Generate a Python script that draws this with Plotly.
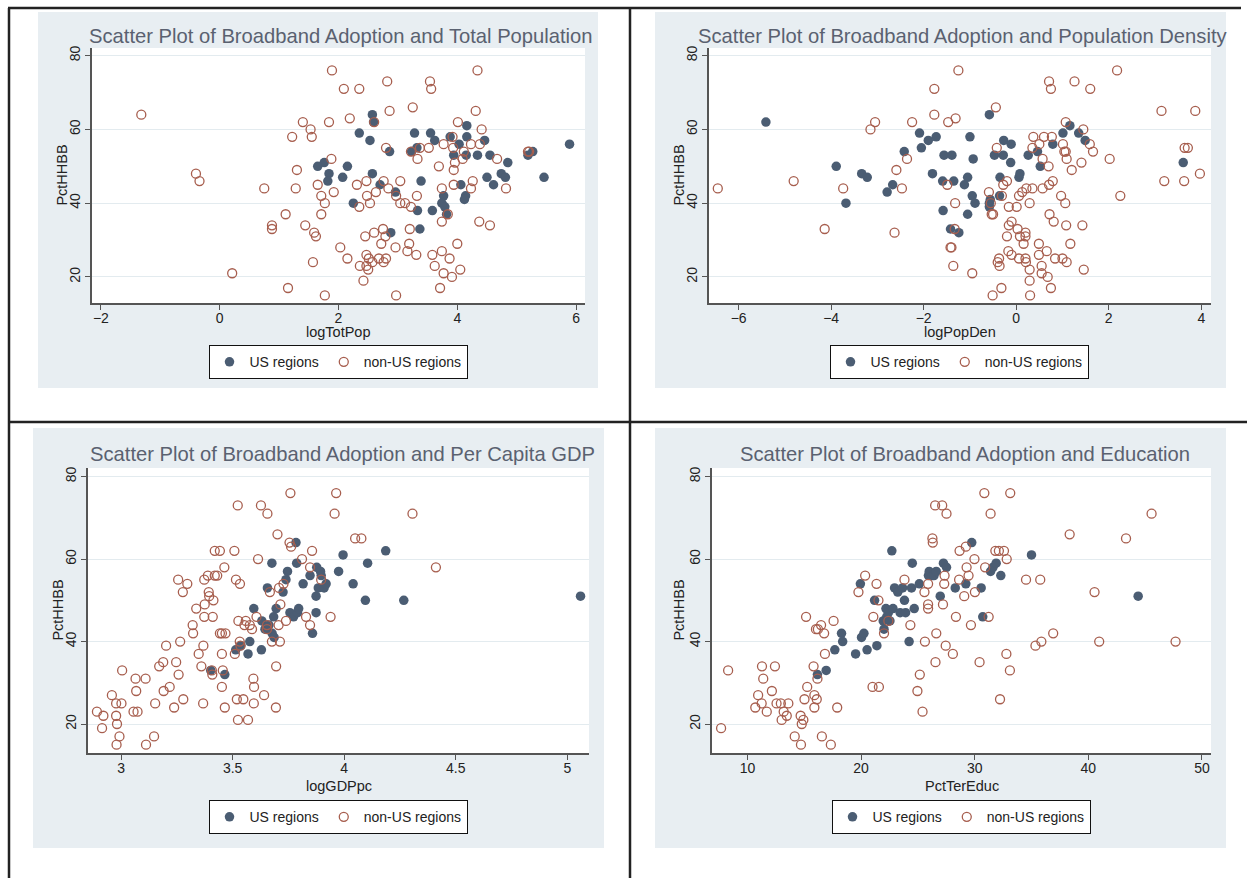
import plotly.graph_objects as go

# ---------------- DATA ----------------
p1_non_x = [-1.32, -0.40, -0.34, 0.21, 0.75, 0.88, 0.88, 1.11, 1.15, 1.22,
            1.28, 1.30, 1.40, 1.44, 1.53, 1.55, 1.57, 1.59, 1.62, 1.65,
            1.71, 1.71, 1.77, 1.77, 1.84, 1.88, 1.89, 1.92, 2.03, 2.09,
            2.15, 2.19, 2.31, 2.35, 2.35, 2.36, 2.42, 2.45, 2.47, 2.47,
            2.47, 2.48, 2.50, 2.51, 2.53, 2.57, 2.60, 2.60, 2.63, 2.68,
            2.72, 2.75, 2.76, 2.76, 2.79, 2.80, 2.80, 2.82, 2.84, 2.86,
            2.96, 2.97, 2.97, 3.04, 3.04, 3.12, 3.16, 3.19, 3.20, 3.22,
            3.22, 3.25, 3.31, 3.32, 3.33, 3.37, 3.52, 3.54, 3.56, 3.58,
            3.62, 3.69, 3.71, 3.74, 3.74, 3.74, 3.77, 3.77, 3.84, 3.87,
            3.91, 3.92, 3.93, 3.94, 3.94, 3.96, 4.00, 4.01, 4.05, 4.09,
            4.11, 4.23, 4.23, 4.26, 4.31, 4.34, 4.37, 4.38, 4.41, 4.55,
            4.67, 4.82, 5.19, 5.21]
p1_non_y = [64, 48, 46, 21, 44, 34, 33, 37, 17, 58,
            44, 49, 62, 34, 60, 58, 24, 32, 31, 45,
            42, 37, 40, 15, 62, 52, 76, 43, 28, 71,
            25, 63, 45, 71, 39, 23, 19, 31, 46, 23,
            26, 42, 22, 25, 40, 24, 32, 62, 43, 25,
            29, 33, 46, 24, 31, 25, 55, 73, 44, 65,
            28, 42, 15, 46, 40, 40, 27, 29, 33, 39,
            54, 66, 26, 42, 52, 55, 55, 73, 71, 26,
            23, 50, 17, 35, 27, 44, 56, 21, 37, 25,
            20, 58, 55, 49, 45, 51, 29, 62, 22, 52,
            54, 56, 44, 46, 65, 76, 35, 56, 60, 34,
            52, 44, 54, 54]
p1_us_x = [2.57, 2.59, 2.35, 2.53, 2.86, 3.28, 3.23, 3.32, 3.55, 3.62,
           3.88, 4.03, 3.94, 4.15, 4.16, 4.16, 4.34, 4.46, 4.55, 4.85,
           4.74, 4.81, 4.50, 4.61, 5.19, 5.27, 5.46, 5.89, 4.06, 4.14,
           4.12, 3.77, 3.74, 3.79, 3.82, 3.58, 3.33, 3.37, 3.39, 2.96,
           2.70, 2.88, 2.25, 2.07, 2.15, 2.57, 1.84, 1.82, 1.76, 1.65]
p1_us_y = [64, 62, 59, 57, 54, 59, 54, 55, 59, 57,
           58, 56, 53, 53, 61, 58, 53, 57, 53, 51,
           48, 47, 47, 45, 53, 54, 47, 56, 45, 42,
           41, 42, 40, 39, 37, 38, 38, 33, 46, 43,
           45, 32, 40, 47, 50, 48, 48, 46, 51, 50]

p2_non_x = [-6.45, -4.81, -4.14, -3.74, -3.15, -3.05, -2.63, -2.59, -2.47, -2.36,
            -2.25, -1.77, -1.77, -1.49, -1.47, -1.42, -1.40, -1.36, -1.33, -1.32,
            -1.31, -1.25, -0.95, -0.59, -0.55, -0.53, -0.51, -0.50, -0.44, -0.42,
            -0.40, -0.37, -0.36, -0.32, -0.31, -0.28, -0.20, -0.20, -0.17, -0.16,
            -0.16, -0.10, -0.10, 0.01, 0.03, 0.06, 0.06, 0.08, 0.13, 0.16,
            0.20, 0.20, 0.20, 0.21, 0.22, 0.29, 0.29, 0.29, 0.30, 0.35,
            0.35, 0.37, 0.49, 0.49, 0.50, 0.55, 0.55, 0.57, 0.57, 0.60,
            0.66, 0.68, 0.70, 0.71, 0.71, 0.72, 0.75, 0.75, 0.77, 0.79,
            0.81, 0.84, 0.97, 1.00, 1.01, 1.04, 1.06, 1.07, 1.07, 1.08,
            1.09, 1.09, 1.17, 1.20, 1.26, 1.41, 1.43, 1.45, 1.46, 1.59,
            1.60, 1.66, 2.02, 2.18, 2.25, 3.14, 3.20, 3.63, 3.64, 3.71,
            3.87, 3.97]
p2_non_y = [44, 46, 33, 44, 60, 62, 32, 49, 44, 52,
            62, 71, 64, 45, 62, 28, 28, 23, 33, 40,
            63, 76, 21, 43, 40, 37, 15, 37, 66, 55,
            24, 25, 23, 17, 42, 45, 46, 31, 27, 39,
            34, 35, 26, 39, 33, 42, 25, 31, 43, 29,
            31, 32, 25, 24, 44, 40, 22, 19, 15, 44,
            55, 58, 29, 26, 56, 21, 23, 44, 52, 58,
            27, 20, 50, 45, 73, 37, 17, 71, 58, 46,
            35, 25, 42, 25, 56, 54, 40, 62, 54, 34,
            52, 24, 29, 49, 73, 51, 34, 60, 22, 56,
            71, 54, 52, 76, 42, 65, 46, 46, 55, 55,
            65, 48]
p2_us_x = [-5.41, -3.89, -3.68, -3.34, -3.22, -2.79, -2.67, -2.42, -2.09, -2.05,
           -1.90, -1.81, -1.73, -1.59, -1.58, -1.56, -1.39, -1.35, -1.42, -1.24,
           -1.12, -1.05, -1.05, -1.00, -0.95, -0.93, -0.89, -0.58, -0.58, -0.58,
           -0.56, -0.47, -0.36, -0.35, -0.28, -0.27, -0.12, -0.11, 0.06, 0.08,
           0.26, 0.46, 0.52, 0.79, 1.01, 1.16, 1.35, 1.49, 3.61]
p2_us_y = [62, 50, 40, 48, 47, 43, 45, 54, 59, 55,
           57, 48, 58, 46, 38, 53, 53, 46, 33, 32,
           45, 47, 37, 58, 42, 52, 40, 64, 40, 39,
           41, 53, 42, 47, 53, 57, 51, 56, 47, 48,
           53, 54, 50, 56, 59, 61, 59, 57, 51]

p3_non_x = [2.892, 2.915, 2.921, 2.959, 2.978, 2.978, 2.982, 2.980, 2.993, 3.002,
            3.005, 3.056, 3.074, 3.065, 3.068, 3.110, 3.112, 3.148, 3.153, 3.171,
            3.189, 3.191, 3.202, 3.218, 3.238, 3.247, 3.258, 3.256, 3.265, 3.277,
            3.279, 3.297, 3.321, 3.323, 3.337, 3.348, 3.360, 3.368, 3.369, 3.373,
            3.373, 3.375, 3.389, 3.393, 3.395, 3.407, 3.409, 3.411, 3.414, 3.420,
            3.420, 3.431, 3.443, 3.443, 3.452, 3.452, 3.452, 3.456, 3.463, 3.465,
            3.468, 3.508, 3.515, 3.510, 3.519, 3.523, 3.524, 3.526, 3.532, 3.533,
            3.535, 3.548, 3.553, 3.559, 3.569, 3.577, 3.587, 3.593, 3.596, 3.595,
            3.607, 3.614, 3.627, 3.641, 3.654, 3.654, 3.656, 3.667, 3.676, 3.694,
            3.695, 3.701, 3.706, 3.708, 3.712, 3.714, 3.728, 3.739, 3.755, 3.759,
            3.762, 3.811, 3.829, 3.847, 3.847, 3.856, 3.897, 3.939, 3.957, 3.964,
            4.049, 4.077, 4.306, 4.411]
p3_non_y = [23, 19, 22, 27, 25, 22, 20, 15, 17, 25,
            33, 23, 23, 31, 28, 31, 15, 17, 25, 34,
            35, 28, 39, 29, 24, 35, 32, 55, 40, 52,
            26, 54, 44, 42, 48, 37, 34, 25, 39, 46,
            55, 49, 56, 52, 51, 33, 32, 46, 50, 62,
            56, 56, 62, 42, 42, 37, 29, 33, 58, 24,
            42, 62, 55, 37, 26, 73, 21, 45, 40, 54,
            39, 26, 44, 45, 21, 44, 43, 31, 29, 25,
            46, 60, 73, 27, 44, 43, 71, 52, 40, 24,
            34, 66, 44, 53, 40, 49, 54, 45, 64, 76,
            63, 60, 46, 58, 44, 62, 55, 46, 71, 76,
            65, 65, 71, 58]
p3_us_x = [3.402, 3.465, 3.514, 3.537, 3.569, 3.577, 3.595, 3.629, 3.631, 3.645,
           3.656, 3.663, 3.676, 3.677, 3.684, 3.686, 3.695, 3.726, 3.739, 3.746,
           3.757, 3.773, 3.784, 3.787, 3.791, 3.796, 3.816, 3.847, 3.858, 3.874,
           3.874, 3.877, 3.884, 3.894, 3.897, 3.910, 3.919, 3.975, 3.995, 4.040,
           4.095, 4.105, 4.186, 4.267, 5.059]
p3_us_y = [33, 32, 38, 39, 37, 40, 48, 38, 45, 43,
           53, 44, 59, 42, 46, 41, 48, 52, 55, 57,
           47, 46, 64, 59, 47, 48, 54, 56, 42, 51,
           47, 58, 53, 57, 56, 53, 54, 57, 61, 54,
           50, 59, 62, 50, 51]

p4_non_x = [7.68, 8.30, 10.69, 10.94, 11.25, 11.28, 11.39, 11.70, 12.15, 12.42,
            12.56, 12.94, 13.01, 13.19, 13.46, 13.60, 14.16, 14.68, 14.71, 14.78,
            14.92, 15.02, 15.16, 15.26, 15.82, 15.89, 15.89, 16.03, 16.10, 16.16,
            16.20, 16.48, 16.55, 16.75, 16.82, 17.34, 17.58, 17.90, 19.77, 20.36,
            21.08, 21.01, 21.36, 21.57, 21.53, 22.02, 22.40, 23.82, 24.34, 24.96,
            25.17, 25.41, 25.58, 25.62, 25.90, 25.90, 25.90, 26.28, 26.31, 26.52,
            26.55, 26.62, 27.14, 27.21, 27.32, 27.35, 27.45, 27.52, 28.08, 28.35,
            28.63, 28.67, 29.08, 29.22, 29.29, 29.46, 29.67, 29.98, 30.02, 30.43,
            30.85, 30.92, 31.23, 31.40, 31.82, 32.13, 32.23, 32.58, 32.79, 32.82,
            33.10, 33.13, 34.52, 35.35, 35.77, 35.87, 36.91, 38.36, 40.55, 40.96,
            43.32, 45.57, 47.68]
p4_non_y = [19, 33, 24, 27, 25, 34, 31, 23, 28, 34,
            25, 25, 21, 23, 22, 25, 17, 22, 15, 20,
            21, 26, 46, 29, 34, 27, 24, 43, 26, 31,
            43, 44, 17, 42, 37, 15, 45, 24, 52, 56,
            46, 29, 54, 29, 50, 42, 45, 55, 44, 28,
            32, 23, 52, 40, 54, 49, 48, 65, 64, 73,
            35, 42, 73, 49, 54, 56, 39, 71, 37, 46,
            55, 62, 51, 63, 58, 56, 44, 60, 52, 35,
            76, 58, 46, 71, 62, 62, 26, 62, 37, 60,
            33, 76, 55, 39, 55, 40, 42, 66, 52, 40,
            65, 71, 40]
p4_us_x = [16.16, 16.93, 17.69, 18.28, 18.38, 19.52, 19.94, 20.04, 20.25, 20.53,
           21.19, 21.39, 21.95, 22.02, 22.19, 22.26, 22.40, 22.54, 22.71, 22.81,
           22.95, 23.23, 23.44, 23.65, 23.82, 23.92, 24.23, 24.44, 24.51, 24.68,
           25.13, 25.93, 26.00, 26.28, 26.42, 26.62, 26.97, 27.25, 27.52, 28.29,
           29.22, 29.74, 30.57, 30.71, 31.40, 31.61, 31.89, 32.30, 35.00, 44.39]
p4_us_y = [32, 33, 38, 42, 40, 37, 54, 41, 42, 38,
           50, 39, 45, 43, 48, 46, 47, 45, 62, 48,
           53, 52, 47, 53, 50, 47, 40, 53, 59, 48,
           54, 56, 57, 56, 56, 57, 51, 59, 58, 53,
           54, 64, 53, 46, 57, 58, 59, 56, 61, 51]

titles = ["Scatter Plot of Broadband Adoption and Total Population",
          "Scatter Plot of Broadband Adoption and Population Density",
          "Scatter Plot of Broadband Adoption and Per Capita GDP",
          "Scatter Plot of Broadband Adoption and Education"]
x_titles = ["logTotPop", "logPopDen", "logGDPpc", "PctTerEduc"]
y_title = "PctHHBB"
x_ticks = [[-2, 0, 2, 4, 6], [-6, -4, -2, 0, 2, 4], [3, 3.5, 4, 4.5, 5], [10, 20, 30, 40, 50]]
y_ticks = [20, 40, 60, 80]
series_names = ["US regions", "non-US regions"]

# ---------------- STYLE / LAYOUT ----------------
W, H = 1247, 878
FONT = "Liberation Sans, Arial, sans-serif"
US_COLOR = "#4b5d73"
NON_COLOR = "#a75e4e"
BG = "#e8eef2"
GRID = "#e3ebef"
AXIS = "#555555"
TITLE_COLOR = "#5a6170"
TXT = "#222222"


def fx(p):
    return p / W


def fy(p):
    return 1 - p / H


panels = [
    dict(plot=(92, 585, 46, 302), gray=(38, 598, 10, 387), xr=[-2.15, 6.15], yr=[12.85, 82.1],
         title=(341, 34), ytx=62, xty=331, leg=(338, 344)),
    dict(plot=(709, 1211, 46, 302), gray=(655, 1226, 10, 387), xr=[-6.64, 4.21], yr=[12.85, 82.1],
         title=(963, 34), ytx=679, xty=331, leg=(959, 344)),
    dict(plot=(88, 589, 467, 753), gray=(33, 604, 427, 848), xr=[2.852, 5.097], yr=[12.9, 82.1],
         title=(342, 453), ytx=58, xty=786, leg=(338, 800)),
    dict(plot=(712, 1211, 467, 753), gray=(655, 1226, 427, 848), xr=[6.88, 50.8], yr=[12.9, 82.1],
         title=(965, 453), ytx=679, xty=786, leg=(961, 800)),
]
data = [(p1_us_x, p1_us_y, p1_non_x, p1_non_y),
        (p2_us_x, p2_us_y, p2_non_x, p2_non_y),
        (p3_us_x, p3_us_y, p3_non_x, p3_non_y),
        (p4_us_x, p4_us_y, p4_non_x, p4_non_y)]

fig = go.Figure()
shapes = []
annotations = []
layout = {}

for i, (pn, (ux, uy, nx, ny)) in enumerate(zip(panels, data)):
    k = i + 1
    sfx = "" if k == 1 else str(k)
    legname = "legend" if k == 1 else f"legend{k}"
    xa, ya = f"x{sfx}", f"y{sfx}"
    fig.add_trace(go.Scatter(x=ux, y=uy, mode="markers", name=series_names[0],
                             xaxis=xa, yaxis=ya, legend=legname, cliponaxis=False,
                             marker=dict(symbol="circle", size=9.5, color=US_COLOR,
                                         line=dict(width=0))))
    fig.add_trace(go.Scatter(x=nx, y=ny, mode="markers", name=series_names[1],
                             xaxis=xa, yaxis=ya, legend=legname, cliponaxis=False,
                             marker=dict(symbol="circle-open", size=9, color=NON_COLOR,
                                         line=dict(width=1.3, color=NON_COLOR))))
    x0, x1, y0, y1 = pn["plot"]
    layout[f"xaxis{sfx}"] = dict(domain=[fx(x0), fx(x1)], anchor=ya, range=pn["xr"],
                                 tickvals=x_ticks[i], showgrid=False, zeroline=False,
                                 showline=True, linecolor=AXIS, linewidth=1.5,
                                 ticks="outside", ticklen=5, tickcolor=AXIS, tickwidth=1,
                                 ticklabelstandoff=-4,
                                 tickfont=dict(size=14, color=TXT, family=FONT))
    layout[f"yaxis{sfx}"] = dict(domain=[fy(y1), fy(y0)], anchor=xa, range=pn["yr"],
                                 tickvals=y_ticks, showgrid=True, gridcolor=GRID, gridwidth=1.2,
                                 zeroline=False, showline=True, linecolor=AXIS, linewidth=1.5,
                                 ticks="outside", ticklen=5, tickcolor=AXIS, tickwidth=1,
                                 tickangle=-90,
                                 tickfont=dict(size=14, color=TXT, family=FONT))
    gx0, gx1, gy0, gy1 = pn["gray"]
    shapes.append(dict(type="rect", xref="paper", yref="paper", layer="below",
                       x0=fx(gx0), x1=fx(gx1), y0=fy(gy1), y1=fy(gy0),
                       fillcolor=BG, line=dict(width=0)))
    shapes.append(dict(type="rect", xref="paper", yref="paper", layer="below",
                       x0=fx(x0), x1=fx(x1), y0=fy(y1), y1=fy(y0),
                       fillcolor="white", line=dict(width=0)))
    tx, ty = pn["title"]
    annotations.append(dict(text=titles[i], x=fx(tx), y=fy(ty), xref="paper", yref="paper",
                            xanchor="center", yanchor="middle", showarrow=False,
                            font=dict(size=20.2, color=TITLE_COLOR, family=FONT)))
    annotations.append(dict(text=y_title, x=fx(pn["ytx"]), y=fy((y0 + y1) / 2), xref="paper",
                            yref="paper", xanchor="center", yanchor="middle", showarrow=False,
                            textangle=-90, font=dict(size=14.5, color=TXT, family=FONT)))
    annotations.append(dict(text=x_titles[i], x=fx((x0 + x1) / 2), y=fy(pn["xty"]), xref="paper",
                            yref="paper", xanchor="center", yanchor="middle", showarrow=False,
                            font=dict(size=14.5, color=TXT, family=FONT)))
    lx, ly = pn["leg"]
    layout[legname] = dict(x=fx(lx), y=fy(ly), xref="paper", yref="paper",
                           xanchor="center", yanchor="top", orientation="h",
                           bgcolor="white", bordercolor="#111111", borderwidth=1,
                           font=dict(size=14, color=TXT, family=FONT),
                           itemclick=False, itemdoubleclick=False)

# outer frame lines
frame = [(8, 6, 1241, 6), (9, 6, 9, 878), (630, 6, 630, 878), (8, 421, 1247, 421)]
for (a, b, c, d) in frame:
    shapes.append(dict(type="line", xref="paper", yref="paper", layer="above",
                       x0=fx(a), y0=fy(b), x1=fx(c), y1=fy(d),
                       line=dict(color="#222222", width=2.5)))

fig.update_layout(width=W, height=H, margin=dict(l=0, r=0, t=0, b=0),
                  paper_bgcolor="white", plot_bgcolor="white",
                  font=dict(family=FONT), shapes=shapes, annotations=annotations,
                  **layout)

fig.write_html("out.html", config={"displayModeBar": False},
               post_script="document.body.style.margin='0';")
